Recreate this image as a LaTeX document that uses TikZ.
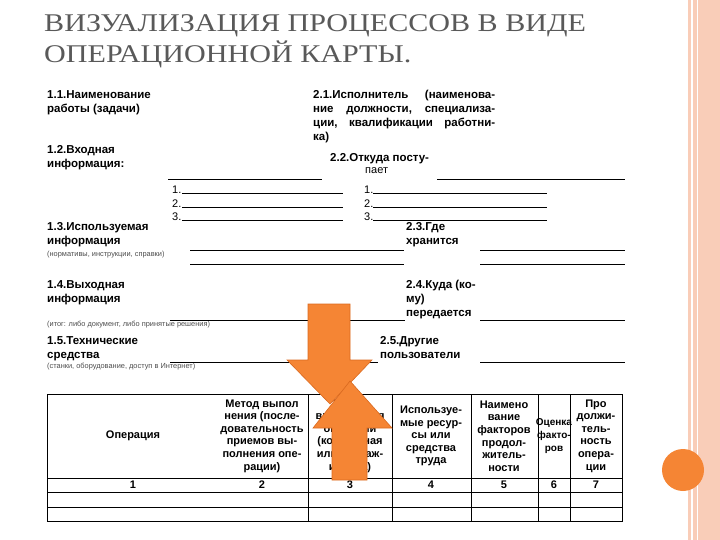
\documentclass[tikz,border=0pt]{standalone}
\usepackage{fontspec}
\setmainfont{Liberation Sans}
\newfontfamily\titlefont{Liberation Serif}
\definecolor{org}{HTML}{F58534}
\definecolor{orgd}{HTML}{D9691F}
\definecolor{peach}{HTML}{F9CDB8}
\definecolor{ttl}{HTML}{595959}
\begin{document}
\begin{tikzpicture}[x=1pt,y=-1pt,
  lbl/.style={anchor=north west,inner sep=0,font=\bfseries\fontsize{11.5}{14}\selectfont,align=left},
  sm/.style={anchor=north west,inner sep=0,font=\fontsize{7.4}{8}\selectfont,text=black!70},
  hd/.style={inner sep=0,font=\bfseries\fontsize{11}{12.6}\selectfont,align=center},
  ln/.style={line width=0.6pt},
  arr/.style={fill=org,draw=orgd,line width=0.6pt}]
\useasboundingbox (0,0) rectangle (720,540);
% right decoration
\fill[peach] (688,0) rectangle (720,540);
\draw[white,line width=1.2pt] (692,0) -- (692,540);
\draw[white,line width=0.8pt] (697,0) -- (697,540);
\fill[org] (683,470) circle (21) node (dot) {};
% title
\node[anchor=north west,inner sep=0,text=ttl,xscale=1.18,font=\titlefont\fontsize{25.5}{31}\selectfont,align=left] (title) at (44,14)
 {ВИЗУАЛИЗАЦИЯ ПРОЦЕССОВ В ВИДЕ\\ОПЕРАЦИОННОЙ КАРТЫ.};
% left column
\node[lbl] (a11) at (47,90) {1.1.Наименование\\работы (задачи)};
\node[lbl] (a12) at (47,145) {1.2.Входная\\информация:};
\node[lbl] (a13) at (47,222) {1.3.Используемая\\информация};
\node[sm] (s13) at (47,251) {(нормативы, инструкции, справки)};
\node[lbl] (a14) at (47,280) {1.4.Выходная\\информация};
\node[sm] (s14) at (47,321) {(итог: либо документ, либо принятые решения)};
\node[lbl] (a15) at (47,336) {1.5.Технические\\средства};
\node[sm] (s15) at (47,363) {(станки, оборудование, доступ в Интернет)};
% right column
\node[lbl,text width=182pt] (a21) at (313,90) {2.1.Исполнитель\hfill(наименова-\\ние\hfill должности,\hfill специализа-\\ции,\hfill квалификации\hfill работни-\\ка)};
\node[lbl] (a22) at (330,153) {2.2.Откуда посту-};
\node[lbl,font=\fontsize{11}{14}\selectfont] (a22b) at (365,167) {пает};
\node[lbl] (a23) at (406,222) {2.3.Где\\хранится};
\node[lbl] (a24) at (406,280) {2.4.Куда (ко-\\му)\\передается};
\node[lbl] (a25) at (380,336) {2.5.Другие\\пользователи};
% numbered lines
\foreach \n/\y in {1/193,2/207,3/220}{
  \node[anchor=south west,inner sep=0,font=\fontsize{11}{12}\selectfont] (l\n) at (172,\y+1) {\n.};
  \draw[ln] (182,\y) -- (343,\y);
  \node[anchor=south west,inner sep=0,font=\fontsize{11}{12}\selectfont] (r\n) at (364,\y+1) {\n.};
  \draw[ln] (373,\y) -- (547,\y);
}
\draw[ln] (168,179) -- (322,179);
\draw[ln] (437,179) -- (625,179);
\draw[ln] (190,250) -- (404,250);
\draw[ln] (190,264) -- (404,264);
\draw[ln] (480,250) -- (625,250);
\draw[ln] (480,264) -- (625,264);
\draw[ln] (170,320) -- (405,320);
\draw[ln] (480,320) -- (625,320);
\draw[ln] (170,362) -- (378,362);
\draw[ln] (480,362) -- (625,362);
% table
\draw[ln] (47,394) rectangle (622,521);
\foreach \y in {478,492,507}{\draw[ln] (47,\y) -- (622,\y);}
\foreach \x in {308,392,471,538,570}{\draw[ln] (\x,394) -- (\x,521);}
\node[hd] (h1) at (133,436) {Операция};
\node[hd] (h2) at (262,436) {Метод выпол\\нения (после-\\довательность\\приемов вы-\\полнения опе-\\рации)};
\node[hd] (h3) at (350,436) {Место\\выполнения\\операции\\(конкретная\\или рассаж-\\ировка)};
\node[hd] (h4) at (431,436) {Используе-\\мые ресур-\\сы или\\средства\\труда};
\node[hd] (h5) at (504,436) {Наимено\\вание\\факторов\\продол-\\житель-\\ности};
\node[hd,font=\bfseries\fontsize{10}{12.6}\selectfont] (h6) at (554,436) {Оценка\\факто-\\ров};
\node[hd] (h7) at (596,436) {Про\\должи-\\тель-\\ность\\опера-\\ции};
\foreach \x/\t in {133/1,262/2,350/3,431/4,504/5,554/6,596/7}{
  \node[hd] (n\t) at (\x,485) {\t};}
% arrows
\draw[arr] (308,304) -- (350,304) -- (350,360) -- (372,360) -- (330,404) -- (287,360) -- (308,360) -- cycle;
\draw[arr] (332,480) -- (367,480) -- (367,428) -- (392,428) -- (350,381) -- (313,428) -- (332,428) -- cycle;
\end{tikzpicture}
\end{document}
